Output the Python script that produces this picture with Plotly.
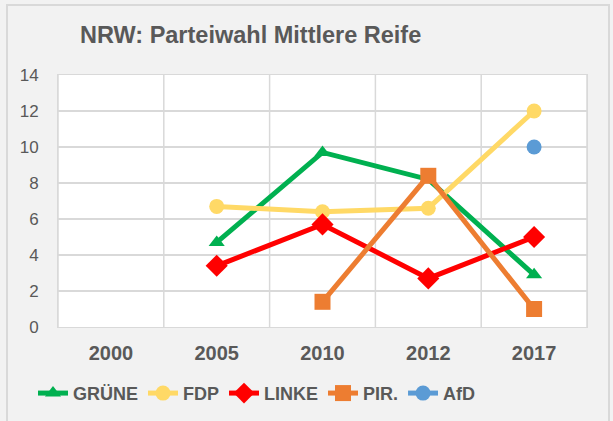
import plotly.graph_objects as go

years = ["2000", "2005", "2010", "2012", "2017"]

gruene = [None, 4.7, 9.7, 8.2, 2.9]
fdp = [None, 6.7, 6.4, 6.6, 12.0]
linke = [None, 3.4, 5.7, 2.7, 5.0]
piraten = [None, None, 1.4, 8.4, 1.0]
afd = [None, None, None, None, 10.0]

series = [
    ("GRÜNE", gruene, "#00b050", "triangle-up", 14),
    ("FDP", fdp, "#ffd966", "circle", 15),
    ("LINKE", linke, "#ff0000", "diamond", 17),
    ("PIR.", piraten, "#ed7d31", "square", 16),
    ("AfD", afd, "#5b9bd5", "circle", 15),
]

fig = go.Figure()
for name, values, color, symbol, size in series:
    fig.add_trace(
        go.Scatter(
            x=years,
            y=values,
            name=f"<b>{name}</b>",
            mode="lines+markers",
            line=dict(color=color, width=5),
            marker=dict(symbol=symbol, size=size, color=color),
        )
    )

grey = "#595959"
grid = "#d9d9d9"
font = "Liberation Sans, Arial, sans-serif"

fig.update_layout(
    width=613,
    height=421,
    paper_bgcolor="#f2f2f2",
    plot_bgcolor="white",
    margin=dict(l=58, r=26, t=75, b=94, autoexpand=False),
    font=dict(family=font, color=grey),
    title=dict(
        text="<b>NRW: Parteiwahl Mittlere Reife</b>",
        x=80 / 613,
        xanchor="left",
        y=1 - 35 / 421,
        yanchor="middle",
        font=dict(size=23.5, color=grey),
    ),
    showlegend=True,
    legend=dict(
        orientation="h",
        x=(33 - 58) / 529,
        xanchor="left",
        y=-0.19,
        yanchor="top",
        font=dict(size=18, color=grey, family=font),
        itemwidth=30,
        bgcolor="rgba(0,0,0,0)",
        traceorder="normal",
    ),
    xaxis=dict(
        type="category",
        range=[-0.5, 4.5],
        showgrid=False,
        showline=True,
        linecolor=grid,
        mirror=True,
        tickfont=dict(size=20, color=grey),
        ticklabelstandoff=8,
        tickprefix="<b>",
        ticksuffix="</b>",
    ),
    yaxis=dict(
        range=[0, 14],
        dtick=2,
        showgrid=True,
        gridcolor=grid,
        gridwidth=1.5,
        showline=True,
        linecolor=grid,
        mirror=True,
        zeroline=False,
        tickfont=dict(size=17, color=grey),
        ticklabelstandoff=15,
    ),
    shapes=[
        dict(
            type="rect",
            xref="paper",
            yref="paper",
            x0=(7 - 58) / 529,
            x1=(609 - 58) / 529,
            y0=-0.5,
            y1=(327 - 5) / 252,
            line=dict(color=grid, width=2),
            fillcolor="rgba(0,0,0,0)",
            layer="below",
        )
    ],
)

# category boundaries as vertical grid lines
for i in range(len(years) + 1):
    fig.add_shape(
        type="line",
        xref="x",
        yref="paper",
        x0=i - 0.5,
        x1=i - 0.5,
        y0=0,
        y1=1,
        line=dict(color=grid, width=1.5),
        layer="below",
    )

fig.write_html(
    "out.html",
    config={"displayModeBar": False},
    post_script="document.body.style.margin='0px';",
)
